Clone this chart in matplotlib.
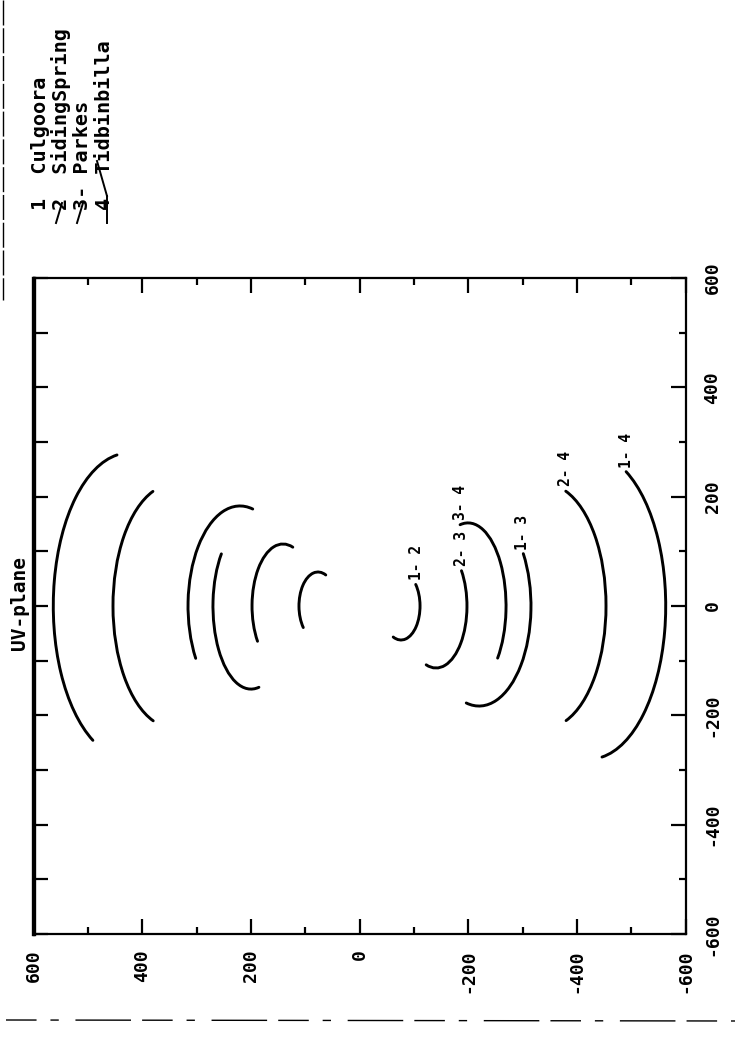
import numpy as np
import matplotlib
matplotlib.use("Agg")
import matplotlib.pyplot as plt
from matplotlib.patches import Arc
from matplotlib.ticker import MultipleLocator
from matplotlib.lines import Line2D

plt.rcParams["font.family"] = ["DejaVu Sans Mono"]
plt.rcParams["font.weight"] = "bold"
plt.rcParams["axes.unicode_minus"] = False

# Stations
station_tags = ["1  ", "2  ", "3- ", "4  "]
station_names = ["Culgoora", "SidingSpring", "Parkes", "Tidbinbilla"]

# Baseline tracks (elliptical arcs); the conjugate track is drawn mirrored
baselines = ["1- 4", "2- 4", "1- 3", "3- 4", "2- 3", "1- 2"]
centre_v = [423.6, 342.2, 220.0, 199.7, 140.8, 76.4]   # ellipse centre along v
half_v = [140.0, 111.5, 95.6, 70.0, 57.0, 35.0]        # semi-axis along v
half_u = [280.0, 223.0, 183.0, 152.0, 113.4, 62.2]     # semi-axis along u
start_v = [490.5, 380.0, 300.9, 185.0, 188.6, 104.0]   # track start (v, u)
start_u = [-245.0, -212.0, -95.1, -150.0, -65.8, -40.2]
end_v = [446.3, 380.0, 196.5, 252.0, 122.4, 61.6]      # track end (v, u)
end_u = [276.2, 208.5, 177.4, 91.5, 109.7, 58.5]

LIM = 600

W, H = 737, 1046
fig = plt.figure(figsize=(W / 100, H / 100), dpi=100)


def fx(px):
    return px / W


def fy(py):
    return 1 - py / H


ax = fig.add_axes([fx(33.5), fy(934), 652 / W, 656 / H])
ax.set_xlim(LIM, -LIM)
ax.set_ylim(-LIM, LIM)

lw = 2.1
for lab, vc, hv, hu, v0, u0, v1, u1 in zip(baselines, centre_v, half_v, half_u,
                                           start_v, start_u, end_v, end_u):
    t0 = np.degrees(np.arctan2(u0, v0 - vc))
    t1 = np.degrees(np.arctan2(u1, v1 - vc))
    ax.add_patch(Arc((vc, 0), 2 * hv, 2 * hu, theta1=t0, theta2=t1,
                     lw=lw, color="black", capstyle="round"))
    ax.add_patch(Arc((-vc, 0), 2 * hv, 2 * hu, theta1=t0 + 180, theta2=t1 + 180,
                     lw=lw, color="black", capstyle="round"))
    ax.annotate(lab, xy=(-v0, -u0), xytext=(0, 3), textcoords="offset points",
                rotation=90, ha="center", va="bottom", fontsize=10.5,
                fontweight="bold")

# Axes frame and ticks
for sp in ax.spines.values():
    sp.set_linewidth(1.6)
ax.spines["left"].set_linewidth(2.4)

ax.xaxis.set_major_locator(MultipleLocator(200))
ax.xaxis.set_minor_locator(MultipleLocator(100))
ax.yaxis.set_major_locator(MultipleLocator(200))
ax.yaxis.set_minor_locator(MultipleLocator(100))
ax.tick_params(which="both", direction="in", top=True, bottom=True,
               left=False, right=True, labelleft=False, labelright=True,
               width=1.6, labelsize=13)
ax.tick_params(which="major", length=10.5)
ax.tick_params(which="minor", length=5)
ax.tick_params(axis="x", pad=11, labelrotation=90)
ax.tick_params(axis="y", pad=13, labelrotation=90)
plt.setp(ax.get_yticklabels(), va="center")

sec = ax.secondary_yaxis("left")
sec.yaxis.set_major_locator(MultipleLocator(100))
sec.yaxis.set_minor_locator(MultipleLocator(50))
sec.tick_params(which="both", direction="in", labelleft=False, width=1.6)
sec.tick_params(which="major", length=10.5)
sec.tick_params(which="minor", length=2.2)
sec.spines["left"].set_linewidth(2.4)

# Title
fig.text(fx(20), fy(603), "UV-plane", rotation=90, ha="center", va="center",
         fontsize=14, fontweight="bold")

# Station key
for i, (tag, name) in enumerate(zip(station_tags, station_names)):
    fig.text(fx(40 + 21.5 * i), fy(210), tag + name, rotation=90,
             ha="center", va="bottom", fontsize=14.5, fontweight="bold")

# pen strokes beside the key
strokes = [
    ([56, 62], [223, 203]),
    ([77, 83], [223, 203]),
    ([107, 107], [223, 196]),
    ([107, 97], [196, 161]),
]
for xs, ys in strokes:
    fig.add_artist(Line2D([fx(x) for x in xs], [fy(y) for y in ys],
                          color="black", lw=1.4, transform=fig.transFigure))

# page edges
fig.add_artist(Line2D([fx(3), fx(3)], [fy(0), fy(300)], color="black", lw=1.0,
                      dashes=(18, 2), transform=fig.transFigure))
fig.add_artist(Line2D([fx(6), fx(735)], [fy(1020), fy(1021)], color="black",
                      lw=1.0, dashes=(22, 10, 6, 12, 40, 8), transform=fig.transFigure))

fig.savefig("out.png", dpi=100, facecolor="white")
